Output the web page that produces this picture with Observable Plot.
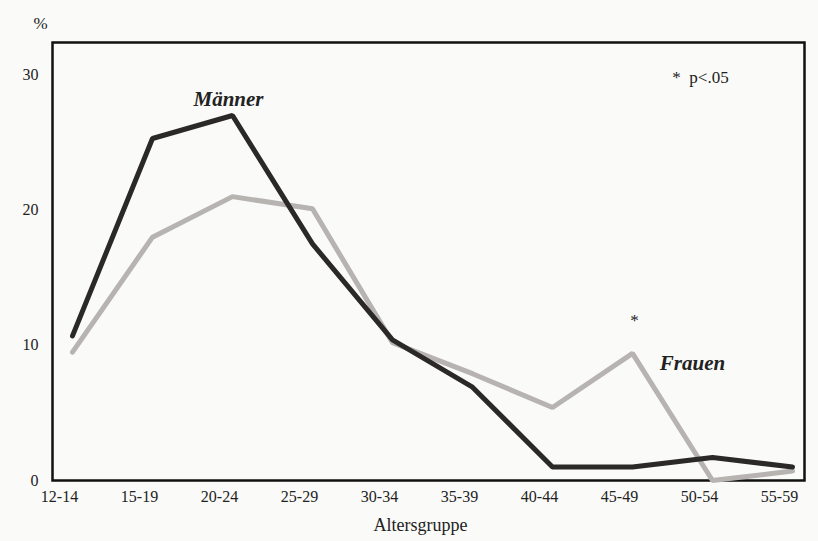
<!DOCTYPE html>
<html>
<head>
<meta charset="utf-8">
<script src="https://cdn.jsdelivr.net/npm/d3@7"></script>
<script src="https://cdn.jsdelivr.net/npm/@observablehq/plot@0.6"></script>
<style>
  html, body { margin: 0; padding: 0; background: #fafaf8; }
  #chart svg { display: block; }
</style>
</head>
<body>
<div id="chart"></div>
<script>
const ageGroups = ["12-14","15-19","20-24","25-29","30-34","35-39","40-44","45-49","50-54","55-59"];
const maenner = [10.7, 25.3, 27.0, 17.5, 10.4, 6.9, 1.0, 1.0, 1.7, 1.0];
const frauen  = [9.5, 18.0, 21.0, 20.1, 10.2, 7.9, 5.4, 9.4, 0.0, 0.7];
const yTicks = [0, 10, 20, 30];

const rows = [];
ageGroups.forEach((g, i) => {
  rows.push({group: g, value: maenner[i], series: "Männer"});
  rows.push({group: g, value: frauen[i], series: "Frauen"});
});

const serif = "'Liberation Serif', 'DejaVu Serif', serif";

const chart = Plot.plot({
  width: 818,
  height: 541,
  marginLeft: 52,
  marginRight: 14,
  marginTop: 42,
  marginBottom: 61,
  style: {background: "#fafaf8", fontFamily: serif, fontSize: "16px", color: "#222"},
  x: {type: "point", domain: ageGroups, padding: 0, insetLeft: 18, insetRight: 11, label: null},
  y: {domain: [0, 32.4], label: null},
  marks: [
    Plot.frame({stroke: "#111", strokeWidth: 2.5}),
    Plot.axisY({ticks: yTicks, tickSize: 0, tickPadding: 14, fontSize: 16, label: null}),
    Plot.axisX({tickSize: 0, tickPadding: 10, dx: -13, fontSize: 16, label: null}),
    Plot.text(["Altersgruppe"], {frameAnchor: "bottom", dy: 50, dx: -8, fontSize: 18}),
    Plot.text(["%"], {frameAnchor: "top-left", dy: -26, dx: -19, fontSize: 17}),
    Plot.line(rows.filter(d => d.series === "Frauen"), {x: "group", y: "value", stroke: "#b6b3b1", strokeWidth: 5, strokeLinejoin: "miter"}),
    Plot.line(rows.filter(d => d.series === "Männer"), {x: "group", y: "value", stroke: "#2b2927", strokeWidth: 5, strokeLinejoin: "miter"}),
    Plot.text([{x: "20-24", y: 28.2, t: "Männer"}], {x: "x", y: "y", text: "t", dx: -4, fontSize: 21, fontWeight: "bold", fontStyle: "italic"}),
    Plot.text([{x: "50-54", y: 8.7, t: "Frauen"}], {x: "x", y: "y", text: "t", dx: -20, fontSize: 21, fontWeight: "bold", fontStyle: "italic"}),
    Plot.text([{x: "45-49", y: 11.8, t: "*"}], {x: "x", y: "y", text: "t", dx: 2, fontSize: 17}),
    Plot.text([{x: "50-54", y: 29.8, t: "*  p<.05"}], {x: "x", y: "y", text: "t", dx: -12, fontSize: 17})
  ]
});
document.getElementById("chart").appendChild(chart);
</script>
</body>
</html>
